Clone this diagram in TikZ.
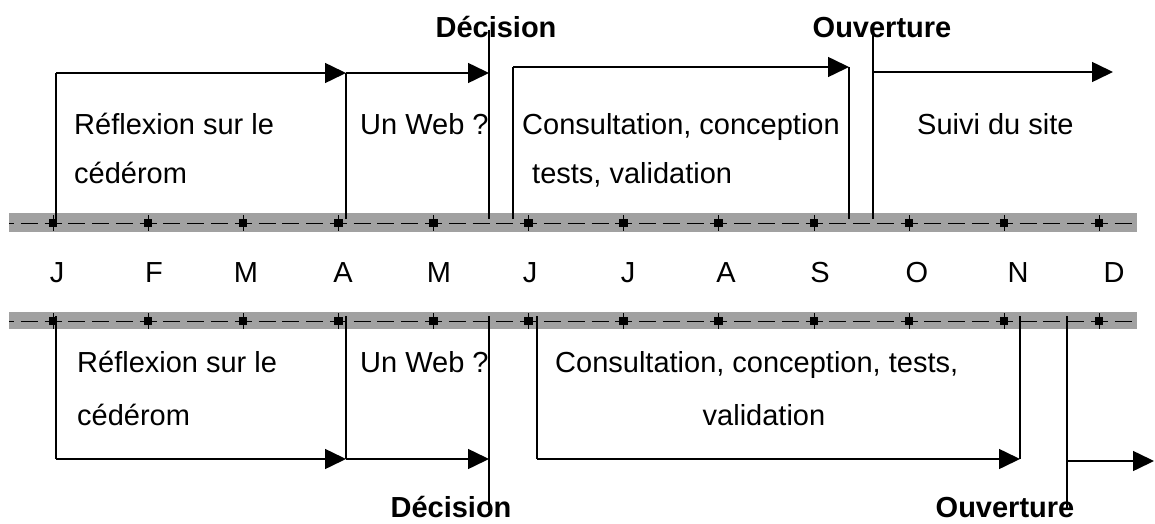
\documentclass[tikz,border=0pt]{standalone}
\usepackage{fontspec}
\setmainfont{Liberation Sans}
\usetikzlibrary{arrows.meta}
\begin{document}
\begin{tikzpicture}[x=1pt,y=-1pt,
  conn/.style={line width=1.5pt},
  arr/.style={conn,-{Triangle[length=21pt,width=20pt]}},
  lbl/.style={font=\fontsize{29}{35}\selectfont, inner sep=0pt, anchor=base west},
  lblc/.style={font=\fontsize{29}{35}\selectfont, inner sep=0pt, anchor=base},
  milestone/.style={font=\fontsize{29}{35}\selectfont\bfseries, inner sep=0pt, anchor=base},
  month/.style={font=\fontsize{29}{35}\selectfont, inner sep=0pt, anchor=base},
  band/.style={fill=black!37, draw=none},
  axis/.style={line width=1pt, dash pattern=on 17pt off 6.78pt, dash phase=12pt},
  marker/.style={fill=black, draw=none, minimum size=8.5pt, inner sep=0pt},
  mtick/.style={line width=0.6pt}]

\useasboundingbox (0,0) rectangle (1155,524);

% ---- the two month bands ----
\fill[band] (9,213) rectangle (1137,232);
\fill[band] (9,312) rectangle (1137,329);
\coordinate (axA0) at (9,223);  \coordinate (axA1) at (1137,223);
\coordinate (axB0) at (9,321);  \coordinate (axB1) at (1137,321);
\draw[axis] (axA0) -- (axA1);
\draw[axis] (axB0) -- (axB1);
\foreach \i in {0,...,11} {
  \draw[mtick] ({53+95.1*\i},215) -- ({53+95.1*\i},231);
  \draw[mtick] ({53+95.1*\i},313) -- ({53+95.1*\i},329);
  \node[marker] (mA\i) at ({53+95.1*\i},223) {};
  \node[marker] (mB\i) at ({53+95.1*\i},321) {};
}

% ---- month letters ----
\foreach \x/\m [count=\k] in {57/J,154/F,246/M,343/A,439/M,530/J,628/J,726/A,820/S,917/O,1018/N,1114/D}
  \node[month] (month\k) at (\x,282) {\m};

% ---- upper schedule ----
\coordinate (u1b) at (56,219);  \coordinate (u1t) at (56,73);
\coordinate (u2b) at (346,219); \coordinate (u2t) at (346,73);
\coordinate (u3t) at (489,73);
\coordinate (udecT) at (489,30); \coordinate (udecB) at (489,219);
\coordinate (u4b) at (513,219); \coordinate (u4t) at (513,67);
\coordinate (u5t) at (849,67);  \coordinate (u5b) at (849,219);
\coordinate (uouvT) at (873,30); \coordinate (uouvB) at (873,219);
\coordinate (u6s) at (873,72);  \coordinate (u6e) at (1113,72);

\draw[conn] (u1b) -- (u1t);
\draw[arr] (u1t) -- (u2t);
\draw[conn] (u2b) -- (u2t);
\draw[arr] (u2t) -- (u3t);
\draw[conn] (udecT) -- (udecB);
\draw[conn] (u4b) -- (u4t);
\draw[arr] (u4t) -- (u5t);
\draw[conn] (u5t) -- (u5b);
\draw[conn] (uouvT) -- (uouvB);
\draw[arr] (u6s) -- (u6e);

\node[milestone] (decU) at (496,38) {Décision};
\node[milestone] (ouvU) at (882,38) {Ouverture};

\node[lbl] (refU1) at (74,135) {Réflexion sur le};
\node[lbl] (refU2) at (74,183) {cédérom};
\node[lbl] (webU) at (360,135) {Un Web ?};
\node[lbl] (conU1) at (522,135) {Consultation, conception};
\node[lbl] (conU2) at (532,183) {tests, validation};
\node[lbl] (suiU) at (917,135) {Suivi du site};

% ---- lower schedule ----
\coordinate (l1t) at (56,316);  \coordinate (l1b) at (56,459);
\coordinate (l2t) at (346,316); \coordinate (l2b) at (346,459);
\coordinate (l3b) at (489,459);
\coordinate (ldecT) at (489,316); \coordinate (ldecB) at (489,510);
\coordinate (l4t) at (537,316); \coordinate (l4b) at (537,459);
\coordinate (l5b) at (1020,459); \coordinate (l5t) at (1020,316);
\coordinate (louvT) at (1067,316); \coordinate (louvB) at (1067,509);
\coordinate (l6s) at (1067,461); \coordinate (l6e) at (1154,461);

\draw[conn] (l1t) -- (l1b);
\draw[arr] (l1b) -- (l2b);
\draw[conn] (l2t) -- (l2b);
\draw[arr] (l2b) -- (l3b);
\draw[conn] (ldecT) -- (ldecB);
\draw[conn] (l4t) -- (l4b);
\draw[arr] (l4b) -- (l5b);
\draw[conn] (l5b) -- (l5t);
\draw[conn] (louvT) -- (louvB);
\draw[arr] (l6s) -- (l6e);

\node[milestone] (decL) at (451,517) {Décision};
\node[milestone] (ouvL) at (1005,517) {Ouverture};

\node[lbl] (refL1) at (77,372) {Réflexion sur le};
\node[lbl] (refL2) at (77,425) {cédérom};
\node[lbl] (webL) at (360,372) {Un Web ?};
\node[lbl] (conL1) at (555,372) {Consultation, conception, tests,};
\node[lblc] (conL2) at (764,425) {validation};
\end{tikzpicture}
\end{document}
